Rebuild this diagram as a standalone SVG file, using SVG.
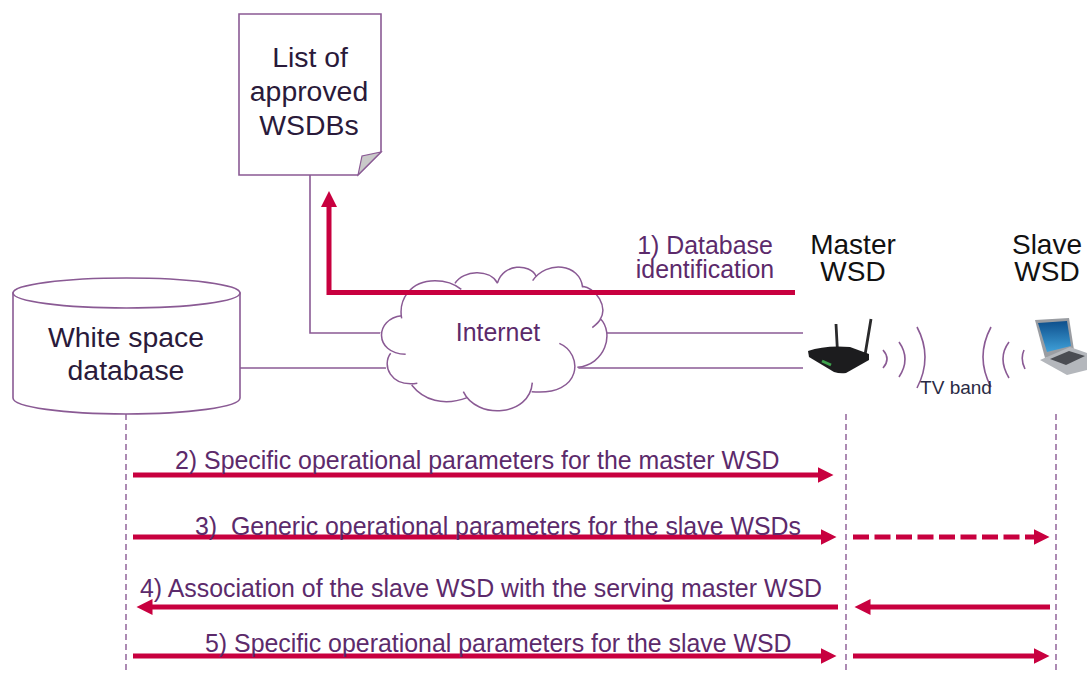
<svg xmlns="http://www.w3.org/2000/svg" width="1087" height="674" viewBox="0 0 1087 674">
<style>
.t{font-family:"Liberation Sans",Arial,sans-serif;fill:#5c2a6b;font-size:24.900px}
.d{fill:#2a1a3a;font-size:28.400px;text-anchor:middle}
.k{fill:#111;font-size:28px;text-anchor:middle}
.m{fill:none;stroke:#8a5a94;stroke-width:1.6}
.r{fill:none;stroke:#c8003f;stroke-width:5}
.a{fill:#c8003f}
.l{fill:none;stroke:#8a5a94;stroke-width:1.4;stroke-dasharray:6 4}
</style>
<defs>
<marker id="h" markerWidth="4" markerHeight="4" refX="0.5" refY="2" orient="auto"><path class="a" d="M0 .4L3.2 2L0 3.6Z"/></marker>
<linearGradient id="lid" x1="0" y1="0" x2="0" y2="1"><stop offset="0" stop-color="#0e4f8c"/><stop offset="1" stop-color="#3fa0d8"/></linearGradient>
</defs>
<rect width="1087" height="674" fill="#fff"/>
<g id="links">
<path class="m" d="M310 175V333H400"/>
<path class="m" d="M240 368H400"/>
<path class="m" d="M590 333H803"/>
<path class="m" d="M570 368H803"/>
<path class="l" d="M126 414V672"/>
<path class="l" d="M846 414V672"/>
<path class="l" d="M1056 414V672"/>
</g>
<g id="internet">
<g transform="translate(300 250) scale(.3333)" fill="#fff" stroke="#8a5a94" stroke-width="4.5">
<path stroke="none" d="M305 200C295 150 330 92 405 92C430 92 455 100 465 100C490 60 570 55 595 98C610 40 690 40 708 75C740 30 840 40 848 110C890 115 925 170 900 205C945 250 915 345 835 352C840 440 760 440 695 420C690 500 530 510 490 425C430 470 370 450 335 405C300 415 240 390 262 315C220 300 230 205 305 200Z"/>
<path fill="none" d="M305 205C295 150 330 92 405 92C435 92 462 100 484 118M465 100C490 60 570 55 593 100M593 98C610 40 690 40 708 78M698 92C740 30 840 40 848 112M845 108C890 115 925 170 900 210C895 218 885 226 877 233M900 205C945 250 915 345 832 352M778 280C850 310 850 440 695 425M697 398C690 500 530 510 490 425M502 443C430 470 370 450 335 405M352 400C270 412 245 345 272 310M305 197C225 205 220 310 317 313"/>
</g>
<text class="t" x="498" y="341" text-anchor="middle">Internet</text>
</g>
<g id="database">
<path d="M13 293V398C13 407 64 414 126 414S240 407 240 398V293Z" fill="#fff" stroke="#8a5a94" stroke-width="1.6"/>
<ellipse cx="126.500" cy="293" rx="113.500" ry="15" fill="#fff" stroke="#8a5a94" stroke-width="1.6"/>
<text class="t d" x="126" y="347">White space</text>
<text class="t d" x="126" y="380">database</text>
</g>
<g id="list">
<path d="M239 14H381V152L358 175H239Z" fill="#fff" stroke="#8a5a94" stroke-width="1.6"/>
<path d="M358 175L362 156L381 152Z" fill="#c9c9c9" stroke="#8a5a94" stroke-width="1.2"/>
<text class="t d" x="310" y="67">List of</text>
<text class="t d" x="309" y="101">approved</text>
<text class="t d" x="309" y="135">WSDBs</text>
</g>
<g id="master">
<text class="t k" x="853" y="254">Master</text>
<text class="t k" x="853" y="281">WSD</text>
<path d="M836 324L837.500 352M871 319L865 355" stroke="#2a2a2c" stroke-width="2.800" fill="none"/>
<path d="M808 351Q825 345 850 347L869 354L869 360L846 373Q840 374 834 372L809 357Z" fill="#1c1c1e"/>
<path d="M822 361L831 365" stroke="#3fa34d" stroke-width="3"/>
</g>
<g id="slave">
<text class="t k" x="1047" y="254">Slave</text>
<text class="t k" x="1047" y="281">WSD</text>
<path d="M1035 320L1069 318L1074 350L1045 358Z" fill="#9a9da2"/>
<path d="M1038 323L1067 321L1071 346L1047 352Z" fill="url(#lid)"/>
<path d="M1040 360L1070 347L1087 353V370L1067 375Z" fill="#b4b7bc"/>
<path d="M1050 359L1069 351L1085 356L1066 365Z" fill="#4a4c52"/>
</g>
<g id="tvband">
<path class="m" d="M883 350Q891 359 883 368M899 342Q911 359 899 377M917 327Q933 357 917 388"/>
<path class="m" d="M1024 350Q1020 359 1025 369M1009 342Q997 358 1009 378M991 327Q975 357 991 387"/>
<text x="956" y="394" style="font-family:'Liberation Sans',Arial,sans-serif;font-size:19px;fill:#2a2a44" text-anchor="middle">TV band</text>
</g>
<g id="connectors">
<path d="M795 292.500H329V204.500" class="r" marker-end="url(#h)"/>
<path d="M133 475H820" class="r" marker-end="url(#h)"/>
<path d="M133 537H823" class="r" marker-end="url(#h)"/>
<path d="M853 537H1036" class="r" stroke-dasharray="16 5.500" marker-end="url(#h)"/>
<path d="M838 607H150" class="r" marker-end="url(#h)"/>
<path d="M1050 607H868" class="r" marker-end="url(#h)"/>
<path d="M133 656H823" class="r" marker-end="url(#h)"/>
<path d="M853 656H1036" class="r" marker-end="url(#h)"/>
</g>
<g id="labels">
<text class="t" x="705" y="254" text-anchor="middle">1) Database</text>
<text class="t" x="705" y="278" text-anchor="middle">identification</text>
<text class="t" x="175" y="469">2) Specific operational parameters for the master WSD</text>
<text class="t" x="195" y="535" xml:space="preserve">3)  Generic operational parameters for the slave WSDs</text>
<text class="t" x="140" y="597">4) Association of the slave WSD with the serving master WSD</text>
<text class="t" x="205" y="652">5) Specific operational parameters for the slave WSD</text>
</g>
</svg>
